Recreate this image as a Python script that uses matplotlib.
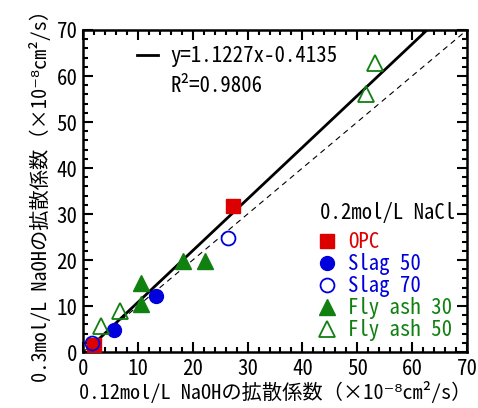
# Diffusion coefficient comparison: 0.12 vs 0.3 mol/L NaOH
import numpy as np
import matplotlib.pyplot as plt
from matplotlib.ticker import MultipleLocator

plt.rcParams['font.family'] = ['Noto Sans Mono CJK JP', 'Noto Sans CJK JP', 'DejaVu Sans']

opc_x = [27.3, 1.95]
opc_y = [31.8, 1.5]
slag50_x = [5.6, 13.3]
slag50_y = [4.7, 12.3]
slag70_x = [26.5, 1.6]
slag70_y = [24.9, 1.9]
fa30_x = [10.6, 10.6, 18.2, 22.2]
fa30_y = [15.1, 10.4, 19.9, 19.8]
fa50_x = [3.2, 6.7, 51.6, 53.2]
fa50_y = [5.6, 8.9, 56.1, 62.9]

slope = 1.1227
intercept = -0.4135
r2 = 0.9806

red = '#dd0000'
blue = '#0000dd'
green = '#108010'

fig = plt.figure(figsize=(4.78, 4.08), dpi=100)
ax = fig.add_axes([0.1736, 0.137, 0.8034, 0.7895])

# 1:1 line
ax.plot([0, 70], [0, 70], color='black', lw=0.8, ls=(0, (5, 4)), zorder=1)

# fitted line
fx = np.array([1.5, (70 - intercept) / slope])
fit_line, = ax.plot(fx, slope * fx + intercept, color='black', lw=2.0, zorder=2)

h1, = ax.plot(opc_x, opc_y, ls='none', marker='s', ms=10, color=red, zorder=3)
h2, = ax.plot(slag50_x, slag50_y, ls='none', marker='o', ms=10, color=blue, zorder=3)
h3, = ax.plot(slag70_x, slag70_y, ls='none', marker='o', ms=10, mfc='none', mec=blue, mew=1.3, zorder=4)
h4, = ax.plot(fa30_x, fa30_y, ls='none', marker='^', ms=11, color=green, zorder=3)
h5, = ax.plot(fa50_x, fa50_y, ls='none', marker='^', ms=11, mfc='none', mec=green, mew=1.3, zorder=4)

ax.set_xlim(0, 70)
ax.set_ylim(0, 70)
ax.xaxis.set_major_locator(MultipleLocator(10))
ax.yaxis.set_major_locator(MultipleLocator(10))
ax.xaxis.set_minor_locator(MultipleLocator(2))
ax.yaxis.set_minor_locator(MultipleLocator(2))
ax.tick_params(which='both', direction='in', top=True, right=True, width=1.5)
ax.tick_params(which='major', length=7, labelsize=15, pad=4)
ax.tick_params(which='minor', length=3.5)
for s in ax.spines.values():
    s.set_linewidth(1.8)

ax.set_xlabel('0.12mol/L NaOHの拡散係数（×10⁻⁸cm²/s）', fontsize=14.6, labelpad=1)
ax.set_ylabel('0.3mol/L NaOHの拡散係数（×10⁻⁸cm²/s）', fontsize=14.6, labelpad=4)

leg1 = ax.legend([fit_line], ['y=1.1227x-0.4135'], loc='upper left',
                 bbox_to_anchor=(137 / 478, 1 - 45 / 408), bbox_transform=fig.transFigure,
                 frameon=False, fontsize=15, borderpad=0, borderaxespad=0,
                 handlelength=1.0, handletextpad=0.58)
ax.add_artist(leg1)
fig.text(170 / 478, 1 - 86 / 408, 'R²=%.4f' % r2, fontsize=15, va='center', ha='left')

ax.legend([h1, h2, h3, h4, h5], ['OPC', 'Slag 50', 'Slag 70', 'Fly ash 30', 'Fly ash 50'],
          title='0.2mol/L NaCl', title_fontsize=15, fontsize=15,
          labelcolor=[red, blue, blue, green, green], loc='upper left',
          bbox_to_anchor=(320 / 478, 1 - 202 / 408), bbox_transform=fig.transFigure,
          frameon=False, borderpad=0, borderaxespad=0, handlelength=0.67,
          handletextpad=0.67, labelspacing=0.0, alignment='left')
ax.get_legend()._legend_box.sep = 5

plt.savefig('out.png', dpi=100)
